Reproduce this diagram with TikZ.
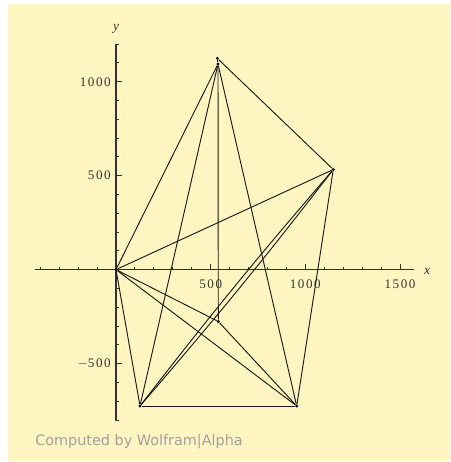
\documentclass[tikz,border=0pt]{standalone}
\usepackage{fontspec}
\setmainfont{Liberation Serif}
\newfontfamily\wafont{DejaVu Sans}
\newfontfamily\tickfont[LetterSpace=12]{Liberation Serif}
\definecolor{bgyellow}{RGB}{255,245,193}
\definecolor{axisgray}{RGB}{50,50,50}
\definecolor{wagray}{RGB}{160,160,160}
\tikzset{
  axisline/.style={draw=axisgray, line width=0.85pt},
  tickline/.style={draw=axisgray, line width=0.7pt},
  ticklabel/.style={text=axisgray, font=\tickfont\fontsize{9.8}{10}\selectfont, inner sep=0pt},
  axislabel/.style={text=axisgray, font=\fontsize{10}{11}\selectfont\itshape, inner sep=0pt},
  vdot/.style={circle, fill=black, inner sep=0pt, minimum size=2.4pt},
  edge/.style={draw=black!90, line width=0.7pt},
}
\begin{document}
\begin{tikzpicture}[x=0.75pt, y=-0.75pt]
\useasboundingbox (0,0) rectangle (451,462);
\fill[white] (0,0) rectangle (451,462);
\fill[bgyellow] (8,4) rectangle (450,461);
% axes
\coordinate (xl) at (35,269.6);
\coordinate (xr) at (414,269.6);
\coordinate (yb) at (116,421);
\coordinate (yt) at (116,44);
\draw[axisline] (xl) -- (xr);
\draw[axisline] (yb) -- (yt);
% x ticks
\foreach \k in {-4,...,15} {
  \pgfmathsetmacro{\px}{116+18.933*\k}
  \ifnum\k=5 \def\tl{6}\else\ifnum\k=10 \def\tl{6}\else\ifnum\k=15 \def\tl{6}\else\def\tl{3}\fi\fi\fi
  \draw[tickline] (\px,269.6) -- (\px,269.6-\tl);
}
% y ticks
\foreach \k in {-8,...,12} {
  \pgfmathsetmacro{\py}{269.6-18.8*\k}
  \ifnum\k=5 \def\tl{6}\else\ifnum\k=10 \def\tl{6}\else\ifnum\k=-5 \def\tl{6}\else\def\tl{3}\fi\fi\fi
  \draw[tickline] (116,\py) -- (116+\tl,\py);
}
% tick labels
\node[ticklabel] (lx500) at (210.7,284) {500};
\node[ticklabel] (lx1000) at (305.3,284) {1000};
\node[ticklabel] (lx1500) at (400,284) {1500};
\node[ticklabel, anchor=east] (ly1000) at (111,82) {1000};
\node[ticklabel, anchor=east] (ly500) at (111,175.6) {500};
\node[ticklabel, anchor=east] (lym500) at (111,363.6) {$-$500};
\node[axislabel] (lx) at (427,271) {x};
\node[axislabel] (ly) at (116,29) {y};
% vertices
\node[vdot] (O) at (116,269.6) {};
\node[vdot] (T1) at (217.3,58.3) {};
\node[vdot] (T2) at (218,64) {};
\node[vdot] (R) at (333.3,169.5) {};
\node[vdot] (I) at (218.3,321.5) {};
\node[vdot] (BL) at (140,406) {};
\node[vdot] (BR) at (296.7,406) {};
% edges
\draw[edge] (T1) -- (T2);
\draw[edge] (T1) -- (R);
\draw[edge] (T2) -- (O);
\draw[edge] (T2) -- (BL);
\draw[edge] (T2) -- (BR);
\draw[edge] (T2) -- (I);
\draw[edge] (O) -- (R);
\draw[edge] (O) -- (I);
\draw[edge] (O) -- (BR);
\draw[edge] (O) -- (BL);
\draw[edge] (I) -- (BR);
\draw[edge] (BL) -- (BR);
\draw[edge] (BR) -- (R);
\draw[edge] (BL) to[bend left=1.5] (R);
\draw[edge] (BL) to[bend right=1.5] (R);
% credit
\node[text=wagray, font=\wafont\fontsize{10.8}{12}\selectfont, anchor=west, inner sep=0pt] (credit) at (35,442) {Computed by Wolfram|Alpha};
\end{tikzpicture}
\end{document}
